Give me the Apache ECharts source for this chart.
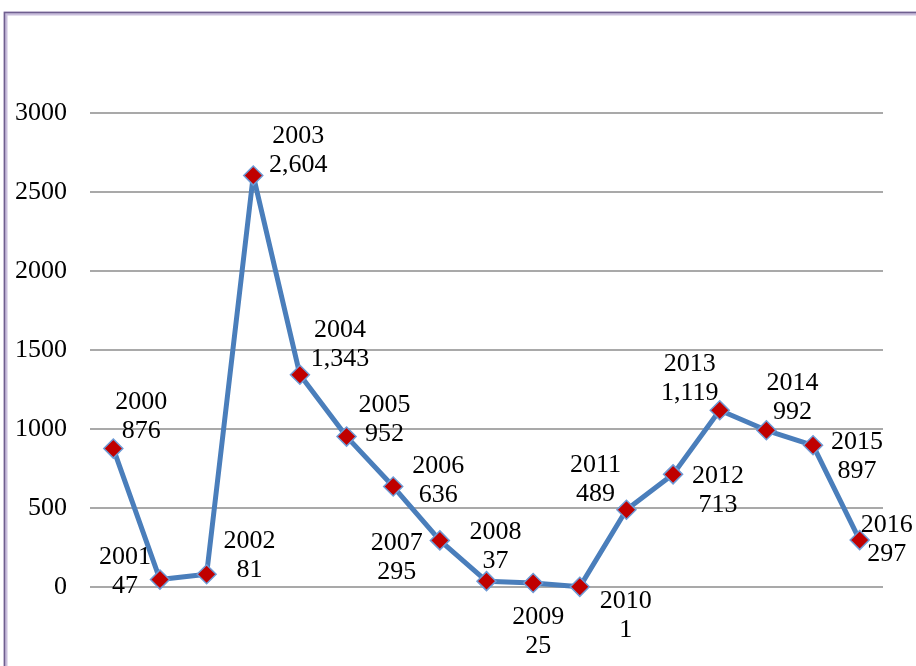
<!DOCTYPE html>
<html>
<head>
<meta charset="utf-8">
<script src="https://cdn.jsdelivr.net/npm/echarts@6/dist/echarts.min.js"></script>
<style>
html,body{margin:0;padding:0;background:#fff;}
#chart{width:916px;height:666px;}
</style>
</head>
<body>
<div id="chart"></div>
<script>
var years = ['2000','2001','2002','2003','2004','2005','2006','2007','2008','2009','2010','2011','2012','2013','2014','2015','2016'];
var values = [876, 47, 81, 2604, 1343, 952, 636, 295, 37, 25, 1, 489, 713, 1119, 992, 897, 297];
var yTicks = [0, 500, 1000, 1500, 2000, 2500, 3000];

// label placement relative to each point (layout only)
var labelOffsets = [
  [28,-32],[-35,-8],[43,-19],[45,-25],[40,-30],[38,-17],[45,-6],[-43,17],
  [9,-34],[5,49],[46,29],[-31,-30],[45,16],[-30,-32],[26,-33],[44,11],[27,0]
];

function fmt(v){ return String(v).replace(/\B(?=(\d{3})+(?!\d))/g, ','); }

var seriesData = values.map(function(v, i){
  return {
    value: v,
    label: { offset: labelOffsets[i] }
  };
});

var chart = echarts.init(document.getElementById('chart'), null, {renderer:'canvas'});
var FONT = 'Liberation Serif, Times New Roman, serif';
chart.setOption({
  animation: false,
  backgroundColor: '#ffffff',
  graphic: [
    { type:'rect', shape:{x:5.5, y:13.5, width:1000, height:700}, style:{fill:'none', stroke:'#c9bedc', lineWidth:4}, z:0 },
    { type:'rect', shape:{x:4.5, y:12.5, width:1000, height:700}, style:{fill:'none', stroke:'#6f5f8f', lineWidth:1.5}, z:0 }
  ],
  grid: { left: 90, right: 33, top: 113, bottom: 79 },
  xAxis: {
    type: 'category',
    data: years,
    boundaryGap: true,
    axisLine: { show: false },
    axisTick: { show: false },
    axisLabel: { show: false },
    splitLine: { show: false }
  },
  yAxis: {
    type: 'value',
    min: yTicks[0],
    max: yTicks[yTicks.length-1],
    interval: 500,
    axisLine: { show: false },
    axisTick: { show: false },
    axisLabel: { color:'#000', fontFamily: FONT, fontSize: 26, margin: 23, formatter: function(v){ return String(v); } },
    splitLine: { lineStyle: { color:'#8c8c8c', width: 1.5 } }
  },
  series: [{
    type: 'line',
    data: seriesData,
    symbol: 'diamond',
    symbolSize: 19,
    lineStyle: { color:'#4a7ebb', width: 5 },
    itemStyle: { color:'#c00000', borderColor:'#6d9bd6', borderWidth: 1.5 },
    label: {
      show: true,
      position: 'inside',
      formatter: function(p){ return years[p.dataIndex] + '\n' + fmt(values[p.dataIndex]); },
      color: '#000',
      fontFamily: FONT,
      fontSize: 26,
      lineHeight: 29,
      align: 'center',
      verticalAlign: 'middle'
    },
    z: 3
  }]
});
</script>
</body>
</html>
